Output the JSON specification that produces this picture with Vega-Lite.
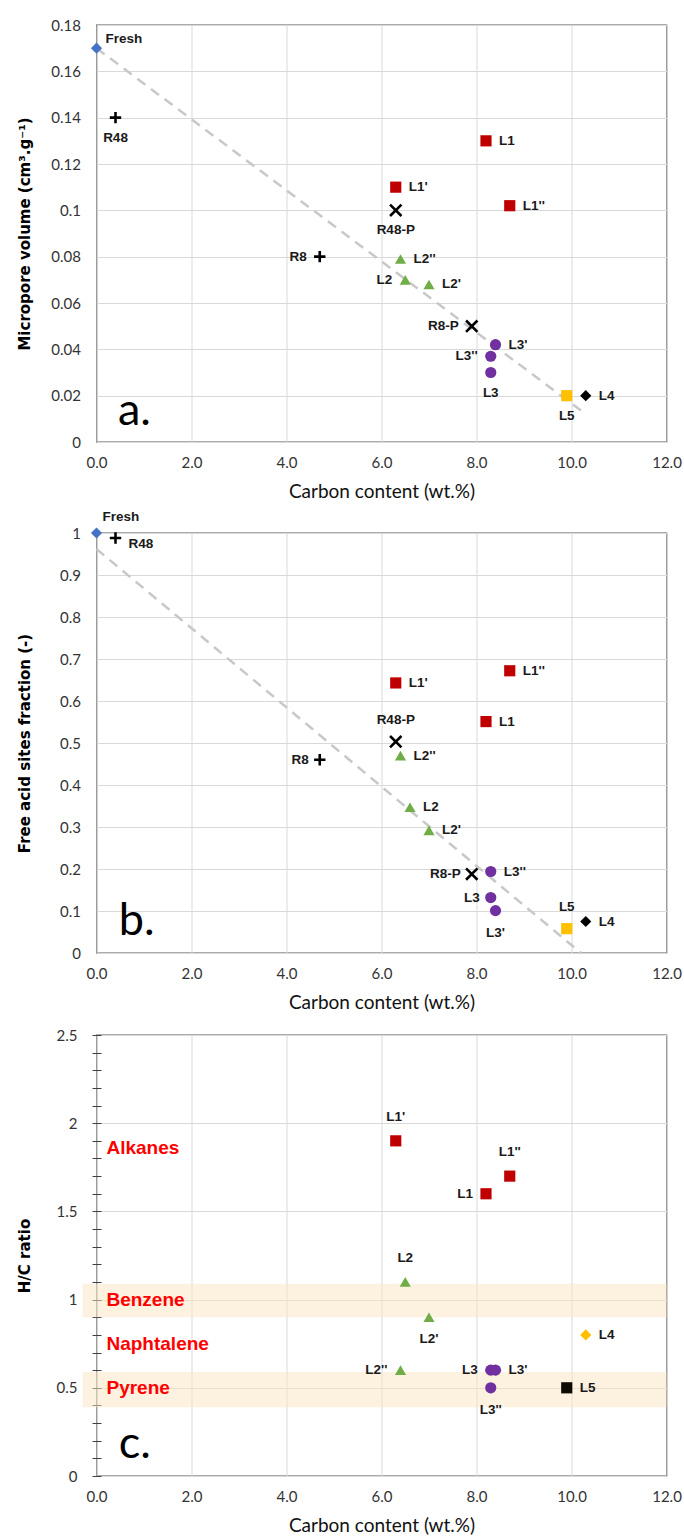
{
  "$schema": "https://vega.github.io/schema/vega-lite/v6.json",
  "padding": {"left": 16.5, "top": 17, "right": 5, "bottom": 5},
  "background": "white",
  "config": {
    "view": {"stroke": "#595959", "strokeWidth": 1.3},
    "axis": {
      "grid": true, "gridColor": "#d9d9d9", "gridWidth": 1, "domain": false, "ticks": false,
      "labelFont": "Lato, Liberation Sans, sans-serif",
      "labelFontSize": 15, "labelColor": "#333333", "labelFlush": false, "labelOverlap": false
    },
    "axisX": {
      "labelPadding": 13, "titlePadding": 12, "titleFontSize": 19, "titleFontWeight": "normal",
      "titleFont": "Lato, Liberation Sans, sans-serif", "titleColor": "#111111"
    },
    "axisY": {
      "labelPadding": 16, "titlePadding": 14, "minExtent": 50, "maxExtent": 50,
      "titleFont": "DejaVu Sans", "titleFontSize": 15, "titleFontWeight": "bold", "titleColor": "#000000"
    },
    "text": {"font": "Liberation Sans, sans-serif", "fontSize": 13.5, "fontWeight": "bold", "color": "#1a1a1a", "baseline": "middle"}
  },
  "datasets": {
    "a": [
      {"s": "Fresh", "g": "Fresh", "c": 0, "v": 0.17, "side": "fa"},
      {"s": "R48", "g": "R", "c": 0.4, "v": 0.14, "side": "b"},
      {"s": "L1", "g": "L1", "c": 8.2, "v": 0.13, "side": "r"},
      {"s": "L1'", "g": "L1", "c": 6.3, "v": 0.11, "side": "r"},
      {"s": "L1''", "g": "L1", "c": 8.7, "v": 0.102, "side": "r"},
      {"s": "R48-P", "g": "RP", "c": 6.3, "v": 0.1, "side": "b"},
      {"s": "R8", "g": "R", "c": 4.7, "v": 0.08, "side": "l"},
      {"s": "L2''", "g": "L2", "c": 6.4, "v": 0.079, "side": "r"},
      {"s": "L2", "g": "L2", "c": 6.5, "v": 0.07, "side": "l"},
      {"s": "L2'", "g": "L2", "c": 7.0, "v": 0.068, "side": "r"},
      {"s": "R8-P", "g": "RP", "c": 7.9, "v": 0.05, "side": "l"},
      {"s": "L3'", "g": "L3", "c": 8.4, "v": 0.042, "side": "r"},
      {"s": "L3''", "g": "L3", "c": 8.3, "v": 0.037, "side": "l"},
      {"s": "L3", "g": "L3", "c": 8.3, "v": 0.03, "side": "b"},
      {"s": "L5", "g": "L5", "c": 9.9, "v": 0.02, "side": "b"},
      {"s": "L4", "g": "L4", "c": 10.3, "v": 0.02, "side": "r"}
    ],
    "b": [
      {"s": "Fresh", "g": "Fresh", "c": 0, "v": 1.0, "side": "fb"},
      {"s": "R48", "g": "R", "c": 0.4, "v": 0.988, "side": "rb"},
      {"s": "L1''", "g": "L1", "c": 8.7, "v": 0.672, "side": "r"},
      {"s": "L1'", "g": "L1", "c": 6.3, "v": 0.643, "side": "r"},
      {"s": "L1", "g": "L1", "c": 8.2, "v": 0.551, "side": "r"},
      {"s": "R48-P", "g": "RP", "c": 6.3, "v": 0.503, "side": "a"},
      {"s": "L2''", "g": "L2", "c": 6.4, "v": 0.47, "side": "r"},
      {"s": "R8", "g": "R", "c": 4.7, "v": 0.46, "side": "l"},
      {"s": "L2", "g": "L2", "c": 6.6, "v": 0.347, "side": "r"},
      {"s": "L2'", "g": "L2", "c": 7.0, "v": 0.292, "side": "r"},
      {"s": "L3''", "g": "L3", "c": 8.3, "v": 0.194, "side": "r"},
      {"s": "R8-P", "g": "RP", "c": 7.9, "v": 0.188, "side": "l"},
      {"s": "L3", "g": "L3", "c": 8.3, "v": 0.132, "side": "l"},
      {"s": "L3'", "g": "L3", "c": 8.4, "v": 0.101, "side": "b"},
      {"s": "L5", "g": "L5", "c": 9.9, "v": 0.058, "side": "a"},
      {"s": "L4", "g": "L4", "c": 10.3, "v": 0.075, "side": "r"}
    ],
    "c": [
      {"s": "L1'", "g": "L1", "c": 6.3, "v": 1.9, "side": "a"},
      {"s": "L1''", "g": "L1", "c": 8.7, "v": 1.7, "side": "a"},
      {"s": "L1", "g": "L1", "c": 8.2, "v": 1.6, "side": "l"},
      {"s": "L2", "g": "L2", "c": 6.5, "v": 1.1, "side": "a"},
      {"s": "L2'", "g": "L2", "c": 7.0, "v": 0.9, "side": "b"},
      {"s": "L2''", "g": "L2", "c": 6.4, "v": 0.6, "side": "l"},
      {"s": "L3", "g": "L3", "c": 8.3, "v": 0.6, "side": "l"},
      {"s": "L3'", "g": "L3", "c": 8.4, "v": 0.6, "side": "r"},
      {"s": "L3''", "g": "L3", "c": 8.3, "v": 0.5, "side": "b"},
      {"s": "L4", "g": "L4", "c": 10.3, "v": 0.8, "side": "r"},
      {"s": "L5", "g": "L5", "c": 9.9, "v": 0.5, "side": "r"}
    ],
    "trendA": [{"c": 0, "v": 0.17}, {"c": 10.3, "v": 0.012}],
    "trendB": [{"c": 0, "v": 0.962}, {"c": 10.2, "v": 0}],
    "bands": [{"c": -0.29, "c2": 12, "v": 0.9, "v2": 1.09}, {"c": -0.29, "c2": 12, "v": 0.39, "v2": 0.59}],
    "notesC": [
      {"s": "Alkanes", "c": 0.21, "v": 1.86},
      {"s": "Benzene", "c": 0.21, "v": 1.0},
      {"s": "Naphtalene", "c": 0.21, "v": 0.75},
      {"s": "Pyrene", "c": 0.21, "v": 0.5}
    ],
    "letterA": [{"s": "a.", "c": 0.45, "v": 0.0073}],
    "letterB": [{"s": "b.", "c": 0.47, "v": 0.043}],
    "letterC": [{"s": "c.", "c": 0.47, "v": 0.1}]
  },
  "spacing": 14,
  "resolve": {"scale": {"color": "independent", "shape": "independent"}},
  "vconcat": [
    {
      "spacing": 91,
      "bounds": "flush",
      "vconcat": [
        {
          "width": 570, "height": 417,
          "data": {"name": "a"},
          "encoding": {
            "x": {"field": "c", "type": "quantitative", "scale": {"domain": [0, 12], "nice": false},
                  "axis": {"title": "Carbon content (wt.%)", "values": [0, 2, 4, 6, 8, 10, 12], "format": ".1f"}},
            "y": {"field": "v", "type": "quantitative", "scale": {"domain": [0, 0.18], "nice": false},
                  "axis": {"title": "Micropore volume  (cm³.g⁻¹)", "values": [0, 0.02, 0.04, 0.06, 0.08, 0.1, 0.12, 0.14, 0.16, 0.18],
                           "labelExpr": "toString(round(datum.value*100)/100)"}}
          },
          "layer": [
            {"data": {"name": "trendA"}, "mark": {"type": "line", "color": "#c8c8c8", "strokeWidth": 2.5, "strokeDash": [10, 7]}},
            {"transform": [{"filter": "datum.g != 'R' && datum.g != 'RP'"}],
             "mark": {"type": "point", "filled": true, "opacity": 1, "size": 125},
             "encoding": {
               "shape": {"field": "g", "scale": {"domain": ["Fresh", "L1", "L2", "L3", "L4", "L5"], "range": ["diamond", "square", "triangle-up", "circle", "diamond", "square"]}, "legend": null},
               "color": {"field": "g", "scale": {"domain": ["Fresh", "L1", "L2", "L3", "L4", "L5"], "range": ["#4472C4", "#C00000", "#70AD47", "#7030A0", "#000000", "#FFC000"]}, "legend": null}
             }},
            {"transform": [{"filter": "datum.g == 'R' || datum.g == 'RP'"}],
             "mark": {"type": "point", "filled": false, "color": "#000000", "strokeWidth": 2.6, "size": 130, "opacity": 1},
             "encoding": {"shape": {"condition": {"test": "datum.g == 'R'", "value": "M-1,0H1M0,-1V1"}, "value": "M-1,-1L1,1M-1,1L1,-1"}}},
            {"transform": [{"filter": "datum.side == 'r'"}], "mark": {"type": "text", "align": "left", "dx": 13}, "encoding": {"text": {"field": "s"}}},
            {"transform": [{"filter": "datum.side == 'l'"}], "mark": {"type": "text", "align": "right", "dx": -13}, "encoding": {"text": {"field": "s"}}},
            {"transform": [{"filter": "datum.side == 'b'"}], "mark": {"type": "text", "align": "center", "dy": 20}, "encoding": {"text": {"field": "s"}}},
            {"transform": [{"filter": "datum.side == 'fa'"}], "mark": {"type": "text", "align": "left", "dx": 9, "dy": -9}, "encoding": {"text": {"field": "s"}}},
            {"data": {"name": "letterA"}, "mark": {"type": "text", "align": "left", "baseline": "alphabetic", "font": "Lato, Liberation Sans, sans-serif", "fontSize": 45, "fontWeight": "normal", "color": "#000000"}, "encoding": {"text": {"field": "s"}}}
          ]
        },
        {
          "width": 570, "height": 420,
          "data": {"name": "b"},
          "encoding": {
            "x": {"field": "c", "type": "quantitative", "scale": {"domain": [0, 12], "nice": false},
                  "axis": {"title": "Carbon content (wt.%)", "values": [0, 2, 4, 6, 8, 10, 12], "format": ".1f"}},
            "y": {"field": "v", "type": "quantitative", "scale": {"domain": [0, 1], "nice": false},
                  "axis": {"title": "Free acid sites fraction  (-)", "values": [0, 0.1, 0.2, 0.3, 0.4, 0.5, 0.6, 0.7, 0.8, 0.9, 1],
                           "labelExpr": "toString(round(datum.value*10)/10)"}}
          },
          "layer": [
            {"data": {"name": "trendB"}, "mark": {"type": "line", "color": "#c8c8c8", "strokeWidth": 2.5, "strokeDash": [10, 7]}},
            {"transform": [{"filter": "datum.g != 'R' && datum.g != 'RP'"}],
             "mark": {"type": "point", "filled": true, "opacity": 1, "size": 125},
             "encoding": {
               "shape": {"field": "g", "scale": {"domain": ["Fresh", "L1", "L2", "L3", "L4", "L5"], "range": ["diamond", "square", "triangle-up", "circle", "diamond", "square"]}, "legend": null},
               "color": {"field": "g", "scale": {"domain": ["Fresh", "L1", "L2", "L3", "L4", "L5"], "range": ["#4472C4", "#C00000", "#70AD47", "#7030A0", "#000000", "#FFC000"]}, "legend": null}
             }},
            {"transform": [{"filter": "datum.g == 'R' || datum.g == 'RP'"}],
             "mark": {"type": "point", "filled": false, "color": "#000000", "strokeWidth": 2.6, "size": 130, "opacity": 1},
             "encoding": {"shape": {"condition": {"test": "datum.g == 'R'", "value": "M-1,0H1M0,-1V1"}, "value": "M-1,-1L1,1M-1,1L1,-1"}}},
            {"transform": [{"filter": "datum.side == 'r'"}], "mark": {"type": "text", "align": "left", "dx": 13}, "encoding": {"text": {"field": "s"}}},
            {"transform": [{"filter": "datum.side == 'l'"}], "mark": {"type": "text", "align": "right", "dx": -11}, "encoding": {"text": {"field": "s"}}},
            {"transform": [{"filter": "datum.side == 'b'"}], "mark": {"type": "text", "align": "center", "dy": 22}, "encoding": {"text": {"field": "s"}}},
            {"transform": [{"filter": "datum.side == 'a'"}], "mark": {"type": "text", "align": "center", "dy": -22}, "encoding": {"text": {"field": "s"}}},
            {"transform": [{"filter": "datum.side == 'rb'"}], "mark": {"type": "text", "align": "left", "dx": 13, "dy": 6}, "encoding": {"text": {"field": "s"}}},
            {"transform": [{"filter": "datum.side == 'fb'"}], "mark": {"type": "text", "align": "left", "dx": 6, "dy": -16}, "encoding": {"text": {"field": "s"}}},
            {"data": {"name": "letterB"}, "mark": {"type": "text", "align": "left", "baseline": "alphabetic", "font": "Lato, Liberation Sans, sans-serif", "fontSize": 45, "fontWeight": "normal", "color": "#000000"}, "encoding": {"text": {"field": "s"}}}
          ]
        }
      ]
    },
    {
      "width": 570, "height": 441,
      "data": {"name": "c"},
      "encoding": {
        "x": {"field": "c", "type": "quantitative", "scale": {"domain": [0, 12], "nice": false},
              "axis": {"title": "Carbon content (wt.%)", "values": [0, 2, 4, 6, 8, 10, 12], "format": ".1f"}},
        "y": {"field": "v", "type": "quantitative", "scale": {"domain": [0, 2.5], "nice": false},
              "axis": {"title": "H/C ratio",
                       "values": [0, 0.1, 0.2, 0.3, 0.4, 0.5, 0.6, 0.7, 0.8, 0.9, 1, 1.1, 1.2, 1.3, 1.4, 1.5, 1.6, 1.7, 1.8, 1.9, 2, 2.1, 2.2, 2.3, 2.4, 2.5],
                       "labelExpr": "abs(datum.value*2 - round(datum.value*2)) < 0.001 ? toString(round(datum.value*10)/10) : ''",
                       "gridOpacity": {"condition": {"test": "abs(datum.value*2 - round(datum.value*2)) < 0.001", "value": 1}, "value": 0},
                       "ticks": true, "tickSize": 9, "tickColor": "#404040", "tickWidth": 1, "offset": -4.5,
                       "labelPadding": 15, "minExtent": 54.5, "maxExtent": 54.5}}
      },
      "layer": [
        {"data": {"name": "bands"}, "mark": {"type": "rect", "color": "#FBE3C2", "opacity": 0.5},
         "encoding": {"x2": {"field": "c2"}, "y2": {"field": "v2"}}},
        {"transform": [{"filter": "datum.g != 'R' && datum.g != 'RP'"}],
         "mark": {"type": "point", "filled": true, "opacity": 1, "size": 125},
         "encoding": {
           "shape": {"field": "g", "scale": {"domain": ["L1", "L2", "L3", "L4", "L5"], "range": ["square", "triangle-up", "circle", "diamond", "square"]}, "legend": null},
           "color": {"field": "g", "scale": {"domain": ["L1", "L2", "L3", "L4", "L5"], "range": ["#C00000", "#70AD47", "#7030A0", "#FFC000", "#0d0a00"]}, "legend": null}
         }},
        {"transform": [{"filter": "datum.side == 'r'"}], "mark": {"type": "text", "align": "left", "dx": 13}, "encoding": {"text": {"field": "s"}}},
        {"transform": [{"filter": "datum.side == 'l'"}], "mark": {"type": "text", "align": "right", "dx": -13}, "encoding": {"text": {"field": "s"}}},
        {"transform": [{"filter": "datum.side == 'b'"}], "mark": {"type": "text", "align": "center", "dy": 22}, "encoding": {"text": {"field": "s"}}},
        {"transform": [{"filter": "datum.side == 'a'"}], "mark": {"type": "text", "align": "center", "dy": -24}, "encoding": {"text": {"field": "s"}}},
        {"data": {"name": "notesC"}, "mark": {"type": "text", "align": "left", "fontSize": 19, "color": "#FF0000"}, "encoding": {"text": {"field": "s"}}},
        {"data": {"name": "letterC"}, "mark": {"type": "text", "align": "left", "baseline": "alphabetic", "font": "Lato, Liberation Sans, sans-serif", "fontSize": 45, "fontWeight": "normal", "color": "#000000"}, "encoding": {"text": {"field": "s"}}}
      ]
    }
  ]
}
